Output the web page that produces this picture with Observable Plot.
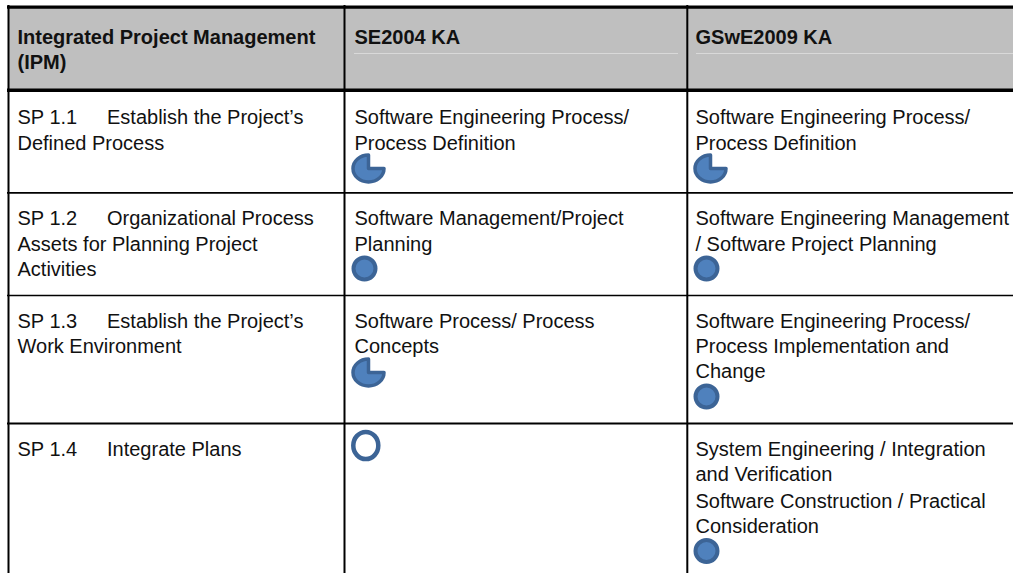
<!DOCTYPE html>
<html><head><meta charset="utf-8">
<script src="https://cdn.jsdelivr.net/npm/d3@7"></script>
<script src="https://cdn.jsdelivr.net/npm/@observablehq/plot@0.6"></script>
<style>html,body{margin:0;padding:0;background:#fff}svg{display:block}</style>
</head><body><div id="chart"></div>
<script>
const columnEdges = [8, 344, 686.8];
const rowEdges = [192.4, 423];
const thinRowEdges = [295];
const headerTexts = [
  {col: 17, y: 37, t: "Integrated Project Management"},
  {col: 17, y: 62, t: "(IPM)"},
  {col: 354, y: 37, t: "SE2004 KA"},
  {col: 695, y: 37, t: "GSwE2009 KA"}
];
const bodyTexts = [
  {col: 17, y: 117, t: "SP 1.1"},
  {col: 106.5, y: 117, t: "Establish the Project\u2019s"},
  {col: 17, y: 142.6, t: "Defined Process"},
  {col: 354, y: 117, t: "Software Engineering Process/"},
  {col: 354, y: 142.6, t: "Process Definition"},
  {col: 695, y: 117, t: "Software Engineering Process/"},
  {col: 695, y: 142.6, t: "Process Definition"},
  {col: 17, y: 218, t: "SP 1.2"},
  {col: 106.5, y: 218, t: "Organizational Process"},
  {col: 17, y: 244.3, t: "Assets for Planning Project"},
  {col: 17, y: 269.3, t: "Activities"},
  {col: 354, y: 218, t: "Software Management/Project"},
  {col: 354, y: 244.3, t: "Planning"},
  {col: 695, y: 218, t: "Software Engineering Management"},
  {col: 695, y: 244.3, t: "/ Software Project Planning"},
  {col: 17, y: 321, t: "SP 1.3"},
  {col: 106.5, y: 321, t: "Establish the Project\u2019s"},
  {col: 17, y: 346.3, t: "Work Environment"},
  {col: 354, y: 321, t: "Software Process/ Process"},
  {col: 354, y: 346.3, t: "Concepts"},
  {col: 695, y: 321, t: "Software Engineering Process/"},
  {col: 695, y: 346.3, t: "Process Implementation and"},
  {col: 695, y: 370.6, t: "Change"},
  {col: 17, y: 449.5, t: "SP 1.4"},
  {col: 106.5, y: 449.5, t: "Integrate Plans"},
  {col: 695, y: 449.5, t: "System Engineering / Integration"},
  {col: 695, y: 474.5, t: "and Verification"},
  {col: 695, y: 501, t: "Software Construction / Practical"},
  {col: 695, y: 526.3, t: "Consideration"}
];
const threeQuarter = [{x: 368, y: 168}, {x: 710, y: 168}, {x: 368, y: 372}];
const fullBalls = [{x: 364, y: 268}, {x: 706, y: 268}, {x: 706, y: 396}, {x: 706, y: 550.5}];
const emptyBalls = [{x: 365.3, y: 445}];
const headerRuleColumns = [[354, 678], [696, 1013]];

const K = 0.5523;
function ellipseSegs(ctx, rx, ry, segs) {
  for (const [c1, c2, e] of segs) {
    ctx.bezierCurveTo(c1[0] * rx, c1[1] * ry, c2[0] * rx, c2[1] * ry, e[0] * rx, e[1] * ry);
  }
}
const leftWay = [
  [[-K, -1], [-1, -K], [-1, 0]],
  [[-1, K], [-K, 1], [0, 1]],
  [[K, 1], [1, K], [1, 0]]
];
const pie34 = {draw(ctx, size) {
  const r = Math.sqrt(size / Math.PI), rx = r, ry = r * 0.87;
  ctx.moveTo(0, 0);
  ctx.lineTo(0, -ry);
  ellipseSegs(ctx, rx, ry, leftWay);
  ctx.closePath();
}};
const oval = {draw(ctx, size) {
  const r = Math.sqrt(size / Math.PI), rx = r * 0.92, ry = r;
  ctx.moveTo(0, -ry);
  ellipseSegs(ctx, rx, ry, leftWay);
  ellipseSegs(ctx, rx, ry, [[[1, -K], [K, -1], [0, -1]]]);
  ctx.closePath();
}};
const W = 1013, H = 573;
const ballFill = "#4f81bd", ballStroke = "#3c6496";
const font = "Liberation Sans";
const plot = Plot.plot({
  width: W, height: H, margin: 0,
  x: {domain: [0, W], range: [0, W], axis: null},
  y: {domain: [0, H], range: [0, H], axis: null},
  style: {background: "#fff"},
  marks: [
    Plot.rect([{a: 8, b: 1013, c: 8, d: 89}], {x1: "a", x2: "b", y1: "c", y2: "d", fill: "#bfbfbf"}),
    Plot.ruleY(headerRuleColumns, {x1: d => d[0], x2: d => d[1], y: () => 53, stroke: "#d9d9d9", strokeWidth: 1}),
    Plot.ruleY([6.6], {x1: 7, x2: 1013, stroke: "#000", strokeWidth: 3.4}),
    Plot.ruleY([89.7], {x1: 7, x2: 1013, stroke: "#000", strokeWidth: 3.4}),
    Plot.ruleY(rowEdges, {x1: 7, x2: 1013, stroke: "#000", strokeWidth: 1.8}),
    Plot.ruleY(thinRowEdges, {x1: 7, x2: 1013, stroke: "#000", strokeWidth: 1.3}),
    Plot.ruleX(columnEdges, {y1: 5, y2: 573, stroke: "#000", strokeWidth: 2}),
    Plot.text(headerTexts, {x: "col", y: "y", text: "t", textAnchor: "start", fontSize: 20, fontWeight: "bold", fontFamily: font, fill: "#111"}),
    Plot.text(bodyTexts, {x: "col", y: "y", text: "t", textAnchor: "start", fontSize: 20, fontFamily: font, fill: "#111"}),
    Plot.dot(threeQuarter, {x: "x", y: "y", r: 15.5, symbol: pie34, fill: ballFill, stroke: ballStroke, strokeWidth: 3.5, strokeLinejoin: "round"}),
    Plot.dot(fullBalls, {x: "x", y: "y", r: 11, fill: ballFill, stroke: ballStroke, strokeWidth: 4}),
    Plot.dot(emptyBalls, {x: "x", y: "y", r: 13.6, symbol: oval, fill: "#fff", stroke: ballStroke, strokeWidth: 4.5})
  ]
});
document.getElementById("chart").append(plot);
</script></body></html>
